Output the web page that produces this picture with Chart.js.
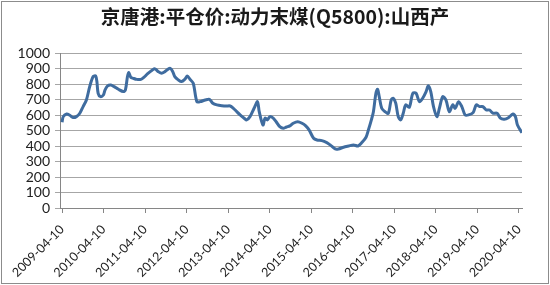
<!DOCTYPE html>
<html>
<head>
<meta charset="utf-8">
<script src="https://cdn.jsdelivr.net/npm/chart.js@4/dist/chart.umd.min.js"></script>
<style>
    html, body { margin: 0; padding: 0; background: #fff; }
    #wrap { width: 550px; height: 285px; position: relative; }
</style>
</head>
<body>
<div id="wrap"><canvas id="coalChart" width="550" height="285"></canvas></div>
<script>
// weekly-ish readings of the price line (yuan/ton)
const dates = [
    '2009-04-10', '2009-04-20', '2009-05-20', '2009-06-17', '2009-07-16', '2009-08-14', '2009-09-13',
    '2009-10-12', '2009-11-10', '2009-12-09', '2010-01-08', '2010-01-30', '2010-02-10', '2010-02-21',
    '2010-03-14', '2010-04-08', '2010-04-23', '2010-05-15', '2010-06-13', '2010-07-12', '2010-08-18',
    '2010-10-01', '2010-10-19', '2010-11-06', '2010-11-17', '2010-12-05', '2010-12-27', '2011-01-26',
    '2011-03-04', '2011-04-01', '2011-04-30', '2011-06-13', '2011-07-05', '2011-08-04', '2011-09-02',
    '2011-10-01', '2011-11-14', '2011-12-09', '2011-12-27', '2012-01-26', '2012-02-24', '2012-03-24',
    '2012-04-15', '2012-05-08', '2012-06-06', '2012-07-08', '2012-08-07', '2012-09-20', '2012-10-27',
    '2012-11-25', '2013-01-01', '2013-02-14', '2013-03-29', '2013-04-27', '2013-05-26', '2013-06-25',
    '2013-07-24', '2013-08-29', '2013-09-20', '2013-10-19', '2013-11-24', '2013-12-24', '2014-01-08',
    '2014-02-10', '2014-02-28', '2014-03-21', '2014-04-12', '2014-05-11', '2014-06-06', '2014-07-08',
    '2014-08-07', '2014-09-05', '2014-10-04', '2014-11-03', '2014-12-13', '2015-01-19', '2015-02-21',
    '2015-03-22', '2015-05-01', '2015-05-31', '2015-07-12', '2015-08-25', '2015-09-24', '2015-11-07',
    '2015-12-06', '2016-01-19', '2016-03-04', '2016-04-16', '2016-05-26', '2016-06-28', '2016-08-04',
    '2016-08-25', '2016-09-20', '2016-10-08', '2016-10-30', '2016-11-14', '2016-11-28', '2016-12-20',
    '2017-01-19', '2017-02-17', '2017-03-14', '2017-04-01', '2017-04-23', '2017-05-15', '2017-06-06',
    '2017-06-28', '2017-07-20', '2017-08-21', '2017-09-20', '2017-10-19', '2017-11-17', '2017-12-16',
    '2018-01-15', '2018-02-03', '2018-02-25', '2018-03-21', '2018-04-20', '2018-05-12', '2018-06-10',
    '2018-07-08', '2018-08-07', '2018-09-06', '2018-09-28', '2018-10-27', '2018-11-25', '2018-12-24',
    '2019-01-23', '2019-03-04', '2019-04-01', '2019-04-30', '2019-05-29', '2019-06-28', '2019-07-27',
    '2019-08-25', '2019-10-01', '2019-10-30', '2019-12-03', '2020-01-08', '2020-02-17', '2020-03-10',
    '2020-03-28', '2020-05-07'
];
const prices = [
    555, 591, 608, 600, 585, 591, 613,
    656, 699, 785, 850, 854, 818, 742,
    720, 731, 764, 790, 796, 785, 768,
    753, 764, 850, 876, 846, 839, 832,
    832, 846, 867, 893, 900, 882, 872,
    882, 904, 882, 850, 829, 818, 833,
    854, 833, 807, 688, 688, 699, 703,
    678, 667, 662, 660, 660, 645, 623,
    602, 581, 570, 591, 645, 688, 623,
    537, 581, 570, 591, 581, 558, 526,
    516, 524, 531, 548, 558, 548, 531,
    505, 451, 440, 436, 423, 408, 382,
    382, 393, 401, 408, 401, 423, 458,
    505, 570, 623, 742, 768, 720, 645,
    623, 613, 699, 710, 678, 591, 570,
    613, 667, 652, 742, 742, 688, 710,
    753, 790, 753, 656, 591, 645, 720,
    699, 623, 667, 645, 688, 656, 602,
    602, 617, 667, 656, 656, 634, 634,
    613, 613, 581, 574, 584, 608, 591,
    537, 487
];
const tickDates = [
    '2009-04-10', '2010-04-10', '2011-04-10', '2012-04-10', '2013-04-10', '2014-04-10',
    '2015-04-10', '2016-04-10', '2017-04-10', '2018-04-10', '2019-04-10', '2020-04-10'
];
const titleText = '京唐港:平仓价:动力末煤(Q5800):山西产';

function toYear(s) {
    const d = new Date(s + 'T00:00:00Z');
    const y = d.getUTCFullYear();
    return y + (d - Date.UTC(y, 0, 1)) / (365.25 * 864e5);
}

const tickPos = tickDates.map(toYear);

// white background + thin grey frame like the spreadsheet export
const framePlugin = {
    id: 'frame',
    beforeDraw(chart) {
        const c = chart.ctx;
        c.save();
        c.fillStyle = '#fff';
        c.fillRect(0, 0, chart.width, chart.height);
        c.strokeStyle = '#8c8c8c';
        c.lineWidth = 1;
        c.strokeRect(1.5, 1.5, chart.width - 3, chart.height - 3);
        c.restore();
    }
};

const ctx = document.getElementById('coalChart').getContext('2d');
new Chart(ctx, {
    type: 'line',
    data: {
        datasets: [{
            data: dates.map((d, i) => ({ x: toYear(d), y: prices[i] })),
            borderColor: '#3F6C9F',
            borderWidth: 3,
            pointRadius: 0,
            tension: 0.3,
            fill: false
        }]
    },
    options: {
        responsive: false,
        animation: false,
        devicePixelRatio: 1,
        layout: { padding: 0 },
        plugins: {
            legend: { display: false },
            tooltip: { enabled: false },
            title: {
                display: true,
                text: titleText,
                color: '#1a1a1a',
                font: { family: '"Noto Sans CJK SC", sans-serif', size: 19.5, weight: 'bold' },
                padding: { top: 5, bottom: 25 }
            }
        },
        scales: {
            x: {
                type: 'linear',
                min: toYear(dates[0]) - 0.05,
                max: toYear(dates[dates.length - 1]),
                afterBuildTicks(scale) {
                    scale.ticks = tickPos.map(v => ({ value: v }));
                },
                afterFit(scale) {
                    scale.height = 77;
                    scale.paddingRight = 28; // empty strip right of the plot
                },
                ticks: {
                    autoSkip: false,
                    minRotation: 45,
                    maxRotation: 45,
                    padding: 9,
                    color: '#222',
                    font: { family: 'Lato, sans-serif', size: 12.5 },
                    callback: (v, i) => tickDates[i]
                },
                grid: { drawOnChartArea: false, drawTicks: true, tickLength: 5, color: '#868686' },
                border: { color: '#868686' }
            },
            y: {
                min: 0,
                max: 1000,
                afterFit(scale) {
                    scale.width = 60;
                },
                ticks: {
                    stepSize: 100,
                    autoSkip: false,
                    padding: 5,
                    color: '#222',
                    font: { family: 'Lato, sans-serif', size: 14 },
                    callback: v => String(v)
                },
                grid: { color: '#a6a6a6', tickLength: 5 },
                border: { color: '#868686' }
            }
        }
    },
    plugins: [framePlugin]
});
</script>
</body>
</html>
